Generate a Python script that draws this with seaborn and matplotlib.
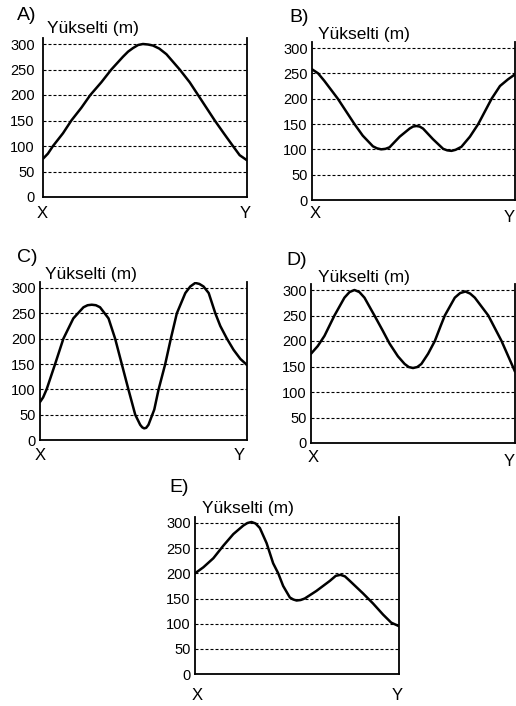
import matplotlib
matplotlib.use("Agg")
import matplotlib.pyplot as plt
import seaborn as sns

# distance along the X-Y profile (% of the way) and elevation (m)
a_dist = [0, 2.4, 4.9, 9.8, 13.9, 18.8, 23.2, 28.6, 33.5, 39.2, 41.7, 44.1, 46.6, 49.0,
          51.5, 53.9, 57.0, 60.5, 67.0, 71.9, 76.0, 80.1, 84.2, 88.6, 93.1, 96.4, 100]
a_elev = [75, 85, 100, 125, 150, 175, 200, 225, 250, 275, 285, 292, 298, 300,
          299, 297, 291, 280, 250, 225, 200, 175, 150, 125, 100, 82, 72]

b_dist = [0, 3.0, 6.1, 12.7, 16.8, 20.9, 25.0, 30.0, 32.0, 34.1, 36.2, 38.2, 43.2,
          48.1, 49.8, 51.4, 53.0, 54.7, 59.6, 64.6, 66.6, 68.7, 70.7, 73.6, 77.8,
          81.9, 88.5, 92.6, 96.5, 100]
b_elev = [258, 250, 235, 200, 175, 150, 127, 106, 102, 100, 101, 104, 125,
          141, 145, 146, 145, 141, 120, 101, 98, 97, 99, 105, 125,
          150, 200, 225, 238, 248]

c_dist = [0, 1.5, 3.2, 7.3, 11.3, 16.1, 21.0, 23.0, 25.0, 27.0, 29.0, 33.1, 36.3,
          39.5, 42.7, 46.0, 48.4, 49.4, 50.3, 51.3, 52.4, 55.2, 57.3, 60.5, 63.2,
          66.1, 70.2, 72.6, 75.0, 77.0, 79.0, 81.5, 84.7, 87.1, 90.3, 93.5, 96.8, 100]
c_elev = [75, 84, 100, 150, 200, 240, 262, 266, 267, 266, 262, 240, 200,
          150, 100, 50, 30, 25, 23, 24, 30, 60, 100, 150, 200,
          250, 290, 303, 310, 308, 303, 290, 250, 225, 200, 178, 160, 148]

d_dist = [0, 3.3, 6.6, 11.5, 16.4, 18.9, 21.3, 23.7, 26.2, 31.1, 35.2, 38.5, 42.6,
          45.9, 47.9, 50.0, 52.1, 54.1, 57.4, 60.7, 63.6, 65.6, 70.5, 73.1, 75.7,
          78.0, 80.3, 86.9, 93.4, 100]
d_elev = [175, 190, 210, 250, 285, 296, 300, 296, 285, 250, 220, 195, 170,
          155, 149, 147, 149, 155, 175, 200, 230, 250, 285, 294, 297,
          293, 285, 250, 200, 140]

e_dist = [0, 4.1, 9.0, 13.9, 18.8, 23.7, 25.7, 27.7, 29.7, 31.8, 35.1, 38.3, 40.8,
          43.2, 46.5, 48.2, 49.8, 51.8, 53.8, 59.5, 66.1, 69.0, 71.3, 73.5, 75.9,
          82.4, 87.3, 92.2, 96.2, 100]
e_elev = [200, 212, 230, 255, 278, 295, 300, 302, 299, 290, 260, 220, 200,
          175, 152, 148, 146, 147, 150, 165, 185, 195, 197, 194, 185,
          160, 140, 118, 102, 95]

elev_ticks = [0, 50, 100, 150, 200, 250, 300]
axis_title = "Yükselti (m)"

W, H = 516, 706

sns.set_style("white")
plt.rcParams["font.family"] = ["Liberation Sans", "DejaVu Sans"]

fig = plt.figure(figsize=(W / 100, H / 100), dpi=100)


def px_text(x, y, s, size, ha="center"):
    fig.text(x / W, 1 - y / H, s, fontsize=size, ha=ha, va="center", color="black")


def draw_panel(dist, elev, letter, box, letter_xy, title_xy, x_xy, y_xy, pad=3):
    # box = left px, right px, px of 0 m, px of 300 m
    left, right, base, top300 = box
    ymax = 312
    top = base - (base - top300) * ymax / 300
    ax = fig.add_axes([left / W, 1 - base / H, (right - left) / W, (base - top) / H])
    sns.lineplot(x=dist, y=elev, ax=ax, color="black", linewidth=1.8)
    ax.set_xlim(0, 100)
    ax.set_ylim(0, ymax)
    ax.set_yticks(elev_ticks)
    ax.set_xticks([])
    ax.set_xlabel("")
    ax.set_ylabel("")
    ax.grid(axis="y", color="black", linestyle=(0, (2.7, 1.8)), linewidth=0.8)
    ax.set_axisbelow(True)
    ax.tick_params(axis="y", length=0, pad=pad, labelsize=10.5, labelcolor="black")
    ax.spines["top"].set_visible(False)
    for side in ["left", "bottom", "right"]:
        ax.spines[side].set_color("black")
        ax.spines[side].set_linewidth(1.3)

    px_text(letter_xy[0], letter_xy[1], letter, 14)
    px_text(title_xy[0], title_xy[1], axis_title, 12.5, ha="left")
    px_text(x_xy[0], x_xy[1], "X", 12)
    px_text(y_xy[0], y_xy[1], "Y", 12)
    return ax


draw_panel(a_dist, a_elev, "A)", (43, 247, 197, 44), (27, 15), (47, 28), (42, 213), (245, 213), pad=6)
draw_panel(b_dist, b_elev, "B)", (312, 515, 200, 48), (299, 17), (318, 34), (315, 214), (509, 218))
draw_panel(c_dist, c_elev, "C)", (40, 247, 440, 288), (27, 258), (45, 274), (40, 456), (239, 456))
draw_panel(d_dist, d_elev, "D)", (311, 515, 443, 290), (297, 260), (318, 278), (313, 457), (509, 461))
draw_panel(e_dist, e_elev, "E)", (195, 399, 674, 523), (179, 488), (202, 509), (197, 696), (397, 696))

plt.savefig("out.png", dpi=100, facecolor="white")
